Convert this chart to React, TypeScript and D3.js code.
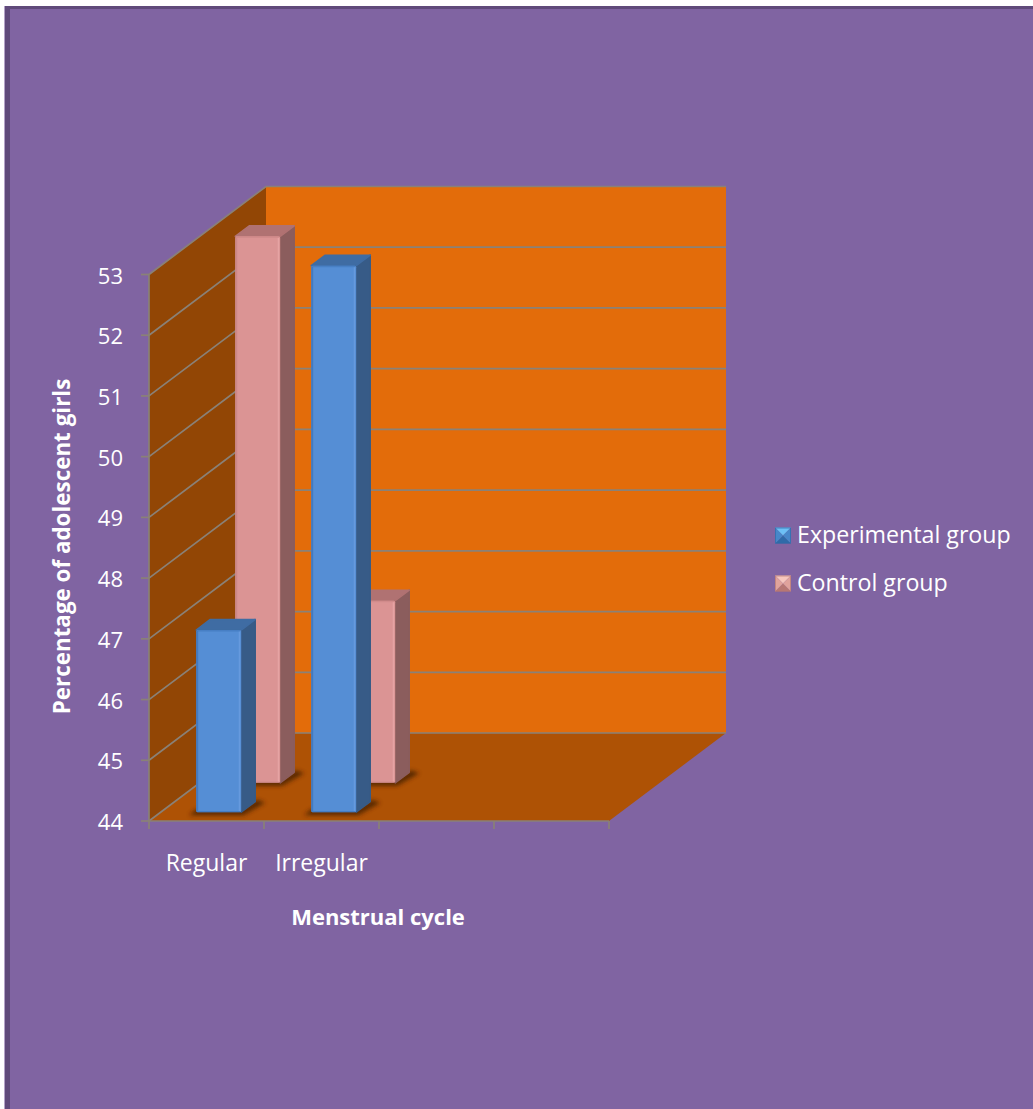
import React from "react";
import * as d3 from "d3";

const categories = ["Regular", "Irregular", " ", "  "];
const seriesNames = ["Experimental group", "Control group", "   "];
const experimentalValues = [47, 53];
const controlValues = [53, 47];
const yTicks = [44, 45, 46, 47, 48, 49, 50, 51, 52, 53];

const WIDTH = 1033;
const HEIGHT = 1109;
const FONT = "'Open Sans', sans-serif";
const GRID = "#8a8177";
const GRID_WIDTH = 1.7;

// Front-left floor corner, chart extents, and the oblique depth vector.
const left = 149;
const baseY = 821;
const plotRight = 609;
const topY = 274.5;
const depthX = 117;
const depthY = -88;

const x = d3.scaleBand<string>().domain(categories).range([left, plotRight]);
const y = d3.scaleLinear().domain([44, 53]).range([baseY, topY]);
// Depth slots along the floor, as a 0..1 fraction of the chart's depth.
const depth = d3.scaleBand<string>().domain(seriesNames).range([0, 1]);

const poly = (pts: [number, number][]) => pts.map((p) => p.join(",")).join(" ");

type BarColours = { face: string; edge: string; side: string; top: string; shine: string };
const blue: BarColours = { face: "#558ED5", edge: "#3f76ba", side: "#375B87", top: "#3F6CA3", shine: "#6a9ee0" };
const pink: BarColours = { face: "#DB9494", edge: "#c98585", side: "#8B5D5D", top: "#B07272", shine: "#e8a6a6" };

function Bar({ category, series, value, c }: { category: string; series: string; value: number; c: BarColours }) {
  const d = depth(series)! + 0.1;
  const barDepth = 0.12;
  const offX = depthX * d;
  const offY = depthY * d;
  const x0 = x(category)! + offX + 35.5;
  const w = 45;
  const x1 = x0 + w;
  const yb = baseY + offY;
  const yt = y(value) + offY;
  const dx = depthX * barDepth;
  const dy = depthY * barDepth;
  return (
    <g>
      <polygon
        points={poly([
          [x0 - 7, yb + 3],
          [x1 + 2, yb + 3],
          [x1 + dx + 10, yb + dy + 1],
          [x1 + dx + 2, yb + dy - 2],
          [x1, yb - 3],
          [x0, yb - 3],
        ])}
        fill="#4a2302"
        opacity={0.85}
        filter="url(#barShadow)"
      />
      <polygon
        points={poly([[x1, yt], [x1 + dx, yt + dy], [x1 + dx, yb + dy], [x1, yb]])}
        fill={c.side}
        stroke={c.side}
        strokeWidth={1.5}
        strokeLinejoin="round"
      />
      <polygon
        points={poly([[x0, yt], [x0 + dx, yt + dy], [x1 + dx, yt + dy], [x1, yt]])}
        fill={c.top}
        stroke={c.top}
        strokeWidth={1.5}
        strokeLinejoin="round"
      />
      <rect x={x0} y={yt} width={w} height={yb - yt} fill={c.face} rx={1.5} />
      <rect x={x0} y={yt + 1} width={2} height={yb - yt - 2} fill={c.edge} opacity={0.8} />
      <rect x={x1 - 2.5} y={yt + 1} width={1.5} height={yb - yt - 2} fill={c.shine} opacity={0.8} />
      <rect x={x0 + 1} y={yt} width={w - 2} height={1.5} fill={c.edge} opacity={0.6} />
      <rect x={x0 + 1} y={yb - 1.2} width={w - 2} height={1.2} fill={c.edge} opacity={0.7} />
    </g>
  );
}

// Small bevelled legend key: four triangles meeting at the centre.
function Swatch({ px, py, top, bottom, sides }: { px: number; py: number; top: string; bottom: string; sides: string }) {
  const s = 16;
  const cx = px + s / 2;
  const cy = py + s / 2;
  return (
    <g>
      <polygon points={poly([[px, py], [px + s, py], [cx, cy]])} fill={top} />
      <polygon points={poly([[px, py + s], [px + s, py + s], [cx, cy]])} fill={bottom} />
      <polygon points={poly([[px, py], [px, py + s], [cx, cy]])} fill={sides} />
      <polygon points={poly([[px + s, py], [px + s, py + s], [cx, cy]])} fill={sides} />
      <rect x={px + 0.5} y={py + 0.5} width={s - 1} height={s - 1} fill="none" stroke={bottom} strokeWidth={1} opacity={0.7} />
    </g>
  );
}

export default function App() {
  const backLeft = left + depthX;
  const backRight = plotRight + depthX;
  const y0 = y(44);
  const y53 = y(53);
  return (
    <svg
      width={WIDTH}
      height={HEIGHT}
      viewBox={`0 0 ${WIDTH} ${HEIGHT}`}
      style={{ position: "fixed", left: 0, top: 0, display: "block", background: "#fff" }}
    >
      <defs>
        <filter id="barShadow" x="-40%" y="-100%" width="180%" height="300%">
          <feGaussianBlur stdDeviation="2.2" />
        </filter>
      </defs>

      {/* Page panel with its darker left and top bands */}
      <rect x={4} y={6} width={WIDTH - 4} height={HEIGHT - 6} fill="#8064A2" />
      <rect x={4} y={6} width={1} height={HEIGHT - 6} fill="#b3a2c7" />
      <rect x={5} y={6} width={5} height={HEIGHT - 6} fill="#604A7B" />
      <rect x={5} y={6} width={WIDTH - 5} height={3} fill="#604A7B" />

      {/* Back wall */}
      <rect x={backLeft} y={y53 + depthY} width={backRight - backLeft} height={y0 - y53} fill="#E36C0A" />
      {/* Side wall */}
      <polygon
        points={poly([[left, y0], [left, y53], [backLeft, y53 + depthY], [backLeft, y0 + depthY]])}
        fill="#924605"
      />
      {/* Floor */}
      <polygon
        points={poly([[left, y0], [plotRight, y0], [backRight, y0 + depthY], [backLeft, y0 + depthY]])}
        fill="#AE5205"
      />

      {/* Gridlines wrapping the two walls, plus left tick marks */}
      {yTicks.map((t) => (
        <g key={t}>
          <polyline
            points={poly([
              [left, y(t)],
              [backLeft, y(t) + depthY],
              [backRight, y(t) + depthY],
            ])}
            fill="none"
            stroke={GRID}
            strokeWidth={GRID_WIDTH}
          />
          <line x1={left - 8} x2={left} y1={y(t)} y2={y(t)} stroke={GRID} strokeWidth={GRID_WIDTH} />
          <text x={123} y={y(t) + 9} textAnchor="end" fill="#fff" fontFamily={FONT} fontSize={22}>
            {t}
          </text>
        </g>
      ))}

      {/* Axis lines */}
      <line x1={left} x2={left} y1={y0} y2={y53} stroke={GRID} strokeWidth={GRID_WIDTH} />
      <line x1={left} x2={plotRight} y1={y0} y2={y0} stroke={GRID} strokeWidth={GRID_WIDTH} />
      {[...categories.map((c) => x(c)!), plotRight].map((tx) => (
        <line key={tx} x1={tx} x2={tx} y1={y0} y2={y0 + 8} stroke={GRID} strokeWidth={GRID_WIDTH} />
      ))}

      {/* Bars drawn from the back row forward */}
      {categories.slice(0, 2).map((c, i) => (
        <Bar key={c} category={c} series={seriesNames[1]} value={controlValues[i]} c={pink} />
      ))}
      {categories.slice(0, 2).map((c, i) => (
        <Bar key={c} category={c} series={seriesNames[0]} value={experimentalValues[i]} c={blue} />
      ))}

      {/* Category labels */}
      {categories.slice(0, 2).map((c) => (
        <text key={c} x={x(c)! + x.bandwidth() / 2} y={871} textAnchor="middle" fill="#fff" fontFamily={FONT} fontSize={23}>
          {c}
        </text>
      ))}

      {/* Axis titles */}
      <text x={378} y={925} textAnchor="middle" fill="#fff" fontFamily={FONT} fontSize={22} fontWeight={700}>
        Menstrual cycle
      </text>
      <text
        transform="translate(70,546.5) rotate(-90)"
        textAnchor="middle"
        fill="#fff"
        fontFamily={FONT}
        fontSize={22.4}
        fontWeight={700}
      >
        Percentage of adolescent girls
      </text>

      {/* Legend */}
      <Swatch px={775} py={527.5} top="#6dc0f5" bottom="#2f6aa8" sides="#4787c9" />
      <text x={797} y={543} fill="#fff" fontFamily={FONT} fontSize={23.2}>
        {seriesNames[0]}
      </text>
      <Swatch px={775} py={575.5} top="#f6c7bd" bottom="#b77773" sides="#e0a39c" />
      <text x={797} y={591} fill="#fff" fontFamily={FONT} fontSize={23.2}>
        {seriesNames[1]}
      </text>
    </svg>
  );
}
